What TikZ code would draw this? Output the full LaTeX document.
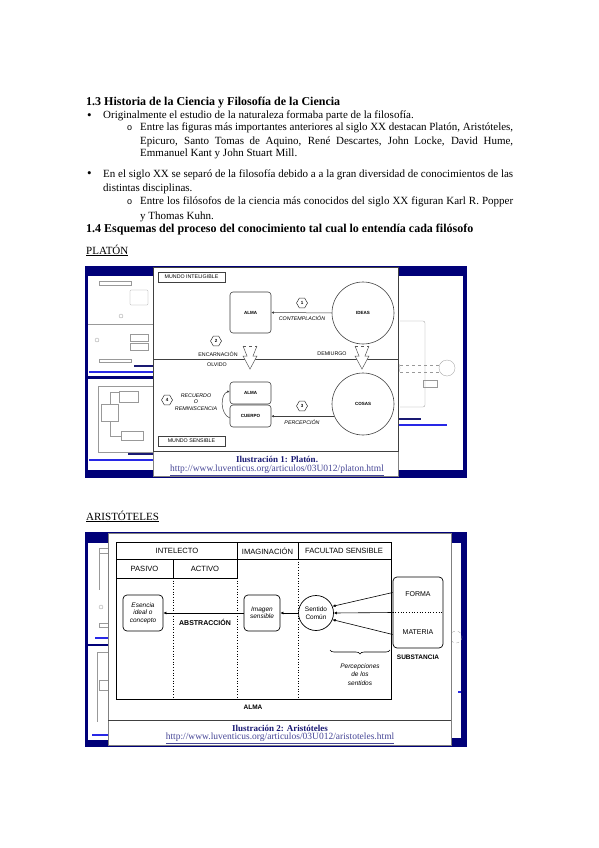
\documentclass[tikz,border=0pt]{standalone}
\usepackage{fontspec}
\setmainfont{Liberation Serif}
\setsansfont{Liberation Sans}
\usetikzlibrary{arrows.meta, positioning, shapes.geometric, decorations.pathreplacing, calc}
\definecolor{navy}{RGB}{0,0,120}
\definecolor{capnavy}{RGB}{25,25,115}
\definecolor{linkblue}{RGB}{70,70,150}
\definecolor{thumbblue}{RGB}{40,40,230}
\tikzset{
    txt/.style={anchor=base west, inner sep=0pt, font=\fontsize{11}{13}\selectfont},
    hd/.style={txt, font=\bfseries\fontsize{12}{14}\selectfont},
    pbox/.style={draw=black!75, rounded corners=3pt, line width=0.6pt, inner sep=1pt,
                 font=\sffamily\bfseries\fontsize{4.5}{5}\selectfont},
    pcirc/.style={circle, draw=black!75, line width=0.6pt, minimum size=62pt, inner sep=0pt,
                  font=\sffamily\bfseries\fontsize{4.5}{5}\selectfont},
    hexa/.style={regular polygon, regular polygon sides=6, draw=black!80, line width=0.5pt,
                 minimum size=11pt, inner sep=0pt, font=\sffamily\bfseries\fontsize{4.5}{5}\selectfont},
    plab/.style={inner sep=0pt, align=center, font=\sffamily\fontsize{5.3}{6.5}\selectfont},
    mbox/.style={plab, draw=black!75, minimum width=67pt, minimum height=10pt},
    parr/.style={-{Latex[length=2.5pt,width=2.5pt]}, black!75, line width=0.5pt},
    capt/.style={inner sep=0pt, text=capnavy, font=\bfseries\fontsize{9}{10}\selectfont},
    link/.style={inner sep=0pt, text=linkblue, font=\fontsize{9.5}{10}\selectfont},
    abox/.style={draw, rounded corners=4pt, line width=0.7pt, align=center, inner sep=1pt,
                 font=\sffamily\itshape\fontsize{6.5}{7.5}\selectfont},
    alab/.style={inner sep=0pt, align=center, font=\sffamily\fontsize{6.5}{7.5}\selectfont},
    ahead/.style={inner sep=0pt, font=\sffamily\fontsize{7.6}{8}\selectfont},
    aarr/.style={-{Latex[length=3pt,width=3pt]}, line width=0.6pt},
    thumb/.style={draw=black!40, line width=0.3pt},
}
\begin{document}
\begin{tikzpicture}[x=1pt, y=-1pt]
    \useasboundingbox[fill=white] (0,0) rectangle (599,848);

    % texto de la pagina
    \node[hd] (h13) at (86,106) {1.3 Historia de la Ciencia y Filosofía de la Ciencia};
    \node[txt, font=\fontsize{13}{13}\selectfont] (b1) at (87,119.5) {•};
    \node[txt] (l1) at (103,119) {Originalmente el estudio de la naturaleza formaba parte de la filosofía.};
    \node[txt, font=\sffamily\fontsize{9}{13}\selectfont] (o1) at (127,131) {o};
    \node[txt] (l2) at (140,131) {\makebox[373pt][s]{Entre las figuras más importantes anteriores al siglo XX destacan Platón, Aristóteles,}};
    \node[txt] (l3) at (140,144) {\makebox[373pt][s]{Epicuro, Santo Tomas de Aquino, René Descartes, John Locke, David Hume,}};
    \node[txt] (l4) at (140,157) {Emmanuel Kant y John Stuart Mill.};
    \node[txt, font=\fontsize{13}{13}\selectfont] (b2) at (87,177.5) {•};
    \node[txt] (l5) at (103,177) {\makebox[410pt][s]{En el siglo XX se separó de la filosofía debido a a la gran diversidad de conocimientos de las}};
    \node[txt] (l6) at (103,191) {distintas disciplinas.};
    \node[txt, font=\sffamily\fontsize{9}{13}\selectfont] (o2) at (127,204) {o};
    \node[txt] (l7) at (140,204) {\makebox[373pt][s]{Entre los filósofos de la ciencia más conocidos del siglo XX figuran Karl R. Popper}};
    \node[txt] (l8) at (140,219) {y Thomas Kuhn.};
    \node[hd] (h14) at (86,232) {1.4 Esquemas del proceso del conocimiento tal cual lo entendía cada filósofo};
    \node[txt] (platon) at (86,254) {\underline{PLATÓN}};
    \node[txt] (aristo) at (86,520) {\underline{ARISTÓTELES}};

    % ---- Platon: fondo ----
    \fill[navy] (85,266) rectangle (467,478);
    \fill[white] (88,276) rectangle (153,376);
    \fill[white] (88,379) rectangle (153,470);
    \fill[white] (398,276) rectangle (463,470);
    \draw[thumb] (99,281) rectangle (131,285);
    \draw[thumb, rounded corners=1pt] (130,290) rectangle (148,305);
    \draw[thumb] (88,324) -- (153,324);
    \draw[thumb] (121,316) circle (2);
    \draw[thumb] (130,334) rectangle (148,341);
    \draw[thumb] (130,343) rectangle (148,350);
    \draw[thumb] (97,340) circle (2);
    \draw[thumb] (99,359) rectangle (131,362);
    \draw[capnavy, line width=1.5pt] (134,366) -- (153,366);
    \draw[thumbblue, line width=1.5pt] (89,372) -- (153,372);
    \draw[thumb] (98,386) rectangle (153,452);
    \draw[thumb] (119,391) rectangle (138,402);
    \draw[thumb] (101,404) rectangle (118,421);
    \draw[thumb] (121,431) rectangle (143,440);
    \draw[thumb] (110,404) -- (110,392) -- (119,392);
    \draw[thumb] (110,421) -- (110,436) -- (121,436);
    \draw[capnavy, line width=1.5pt] (128,454) -- (153,454);
    \draw[thumbblue, line width=1.5pt] (89,460) -- (153,460);
    \draw[thumb, rounded corners=2pt] (400,321) -- (425,321) -- (425,407) -- (400,407);
    \draw[thumb] (392,368) circle (8);
    \draw[thumb] (447,368) circle (8);
    \draw[thumb, dashed] (400,365) -- (439,365);
    \draw[thumb, dashed] (400,372) -- (439,372);
    \draw[thumb] (423,380) rectangle (437,387);
    \draw[capnavy, line width=1.5pt] (398,419) -- (421,419);
    \draw[thumbblue, line width=1.5pt] (398,425) -- (447,425);

    % ---- Platon: esquema ----
    \draw[black!50, fill=white] (153,267) rectangle (398,476);
    \draw[black!75] (153,267) rectangle (398,451);
    \draw[black!75, line width=0.6pt] (153,359) -- (398,359);
    \node[mbox] (mint) at (191.5,277) {MUNDO INTELIGIBLE};
    \node[mbox] (msen) at (191.5,441) {MUNDO SENSIBLE};
    \node[pbox, minimum width=41pt, minimum height=41pt] (almaI) at (250.5,312.5) {ALMA};
    \node[pcirc] (ideas) at (363,313) {IDEAS};
    \draw[parr] (ideas) -- (almaI);
    \node[hexa] (n1) at (302,303) {1};
    \node[plab, font=\sffamily\itshape\fontsize{5.3}{6.5}\selectfont] (contem) at (302,318) {CONTEMPLACIÓN};
    \node[hexa] (n2) at (216,341) {2};
    \node[plab] (encar) at (218,354) {ENCARNACIÓN};
    \node[plab] (olvido) at (217,365) {OLVIDO};
    \node[plab] (demi) at (332,354) {DEMIURGO};
    \foreach \cx in {250,362} {
        \draw[black!65, fill=white, line width=0.5pt] (\cx-7,346) -- (\cx-3,356) -- (\cx-7,356)
            -- (\cx,369) -- (\cx+7,356) -- (\cx+3,356) -- (\cx+7,346);
        \draw[black!65, dashed, line width=0.5pt] (\cx-7,346) -- (\cx+7,346);
    }
    \node[pbox, minimum width=41pt, minimum height=22pt] (almaS) at (250.5,393) {ALMA};
    \node[pbox, minimum width=41pt, minimum height=22pt] (cuerpo) at (250.5,416) {CUERPO};
    \node[pcirc] (cosas) at (363,404) {COSAS};
    \draw[parr] (cosas.203) -- (cosas.203 -| cuerpo.east);
    \node[hexa] (n3) at (302,406) {3};
    \node[plab, font=\sffamily\itshape\fontsize{5.3}{6.5}\selectfont] (percep) at (302,422) {PERCEPCIÓN};
    \node[hexa] (n4) at (167,400) {4};
    \node[plab, font=\sffamily\itshape\fontsize{5.3}{6.5}\selectfont] (recu) at (196,402) {RECUERDO\\O\\REMINISCENCIA};
    \draw[parr] ([yshift=-2pt]cuerpo.west) .. controls (220,414) and (220,394) .. ([yshift=2pt]almaS.west);
    \node[capt] (cap1) at (277,459) {Ilustración 1: Platón.};
    \node[link] (url1) at (277,470) {\underline{http://www.luventicus.org/articulos/03U012/platon.html}};

    % ---- Aristoteles: fondo ----
    \fill[navy] (85,532) rectangle (467,747);
    \fill[white] (88,543) rectangle (108,644);
    \fill[white] (88,646) rectangle (108,740);
    \fill[white] (451,543) rectangle (461,738);
    \draw[thumb] (99,548) rectangle (108,553);
    \draw[thumb] (99,553) -- (99,590);
    \draw[thumb] (101,607) circle (2);
    \draw[thumb] (99,623) rectangle (108,627);
    \draw[thumbblue, line width=1.5pt] (95,638) -- (108,638);
    \draw[thumb] (97,652) -- (108,652);
    \draw[thumb] (97,652) -- (97,722);
    \draw[thumb] (99,680) rectangle (108,690);
    \draw[thumbblue, line width=1.5pt] (92,735) -- (108,735);
    \draw[thumb, dashed] (456,637) circle (6);
    \draw[thumbblue, line width=1.5pt] (458,692) -- (461,692);

    % ---- Aristoteles: esquema ----
    \draw[black!50, fill=white] (108,533) rectangle (451,745);
    \draw[black!75] (108,720) -- (451,720);
    \draw[line width=0.7pt] (116,542) rectangle (391,699);
    \draw[line width=0.7pt] (116,559) -- (391,559);
    \draw[line width=0.7pt] (116,578) -- (237,578);
    \draw[line width=0.7pt] (237,542) -- (237,578);
    \draw[line width=0.7pt] (298,542) -- (298,559);
    \draw[line width=0.7pt] (173,559) -- (173,578);
    \draw[dotted, line width=0.7pt] (173,578) -- (173,699);
    \draw[dotted, line width=0.7pt] (237,578) -- (237,699);
    \draw[dotted, line width=0.7pt] (298,559) -- (298,699);
    \node[ahead] (intel) at (177,551) {INTELECTO};
    \node[ahead] (imag) at (267.5,551) {IMAGINACIÓN};
    \node[ahead] (facu) at (344,551) {FACULTAD SENSIBLE};
    \node[ahead] (pasivo) at (144.5,568.5) {PASIVO};
    \node[ahead] (activo) at (205,568.5) {ACTIVO};
    \node[abox, minimum width=40pt, minimum height=36pt] (esencia) at (143,613) {Esencia\\ideal o\\concepto};
    \node[abox, minimum width=36pt, minimum height=36pt] (imagen) at (262,613) {Imagen\\sensible};
    \node[circle, draw, line width=0.7pt, minimum size=35pt, inner sep=0pt, alab] (sentido) at (316,613) {Sentido\\Común};
    \node[abox, minimum width=50pt, minimum height=71pt] (subst) at (418,612.5) {};
    \node[alab, font=\sffamily\fontsize{7}{8}\selectfont] (forma) at (418,594) {FORMA};
    \node[alab, font=\sffamily\fontsize{7}{8}\selectfont] (materia) at (418,632) {MATERIA};
    \draw[dotted, line width=0.7pt] (subst.west) -- (subst.east);
    \node[alab, font=\sffamily\bfseries\fontsize{6.5}{7.5}\selectfont] (substl) at (418,657) {SUBSTANCIA};
    \draw[aarr] ([yshift=20pt]subst.west) -- (sentido.22);
    \draw[aarr] (subst.west) -- (sentido.east);
    \draw[aarr] ([yshift=-22pt]subst.west) -- (sentido.-22);
    \draw[aarr] (sentido) -- (imagen);
    \draw[aarr] (imagen) -- (esencia);
    \node[alab, font=\sffamily\bfseries\fontsize{7}{8}\selectfont] (abstr) at (205,622) {ABSTRACCIÓN};
    \draw[decorate, decoration={brace, amplitude=4pt}, line width=0.6pt] (390,650) -- (330,650);
    \node[alab, font=\sffamily\itshape\fontsize{6.5}{8.5}\selectfont] (percs) at (360,674.5) {Percepciones\\de los\\sentidos};
    \node[alab, font=\sffamily\bfseries\fontsize{6.5}{7.5}\selectfont] (almaA) at (253,707) {ALMA};
    \node[capt] (cap2) at (280,728) {Ilustración 2: Aristóteles};
    \node[link] (url2) at (280,738) {\underline{http://www.luventicus.org/articulos/03U012/aristoteles.html}};
\end{tikzpicture}
\end{document}
